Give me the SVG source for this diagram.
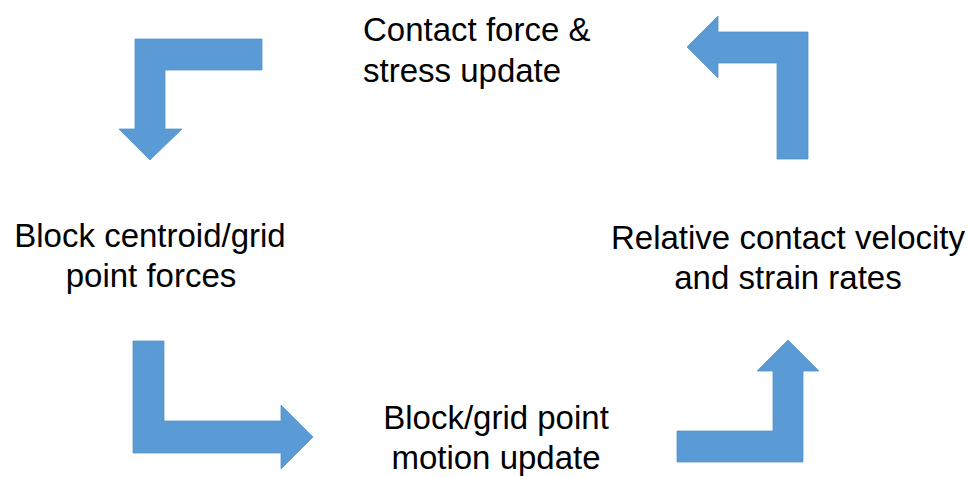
<svg xmlns="http://www.w3.org/2000/svg" width="969" height="477" viewBox="0 0 969 477">
<style>
.arrow{fill:#5B9BD5;stroke:#5191CC;stroke-width:0.75;stroke-linejoin:miter}
.lbl{font-family:"Liberation Sans",Arial,sans-serif;font-size:33px;fill:#000}
</style>
<rect width="969" height="477" fill="#fff"/>
<g id="connectors">
<polygon id="arrow-tl" class="arrow" points="135,39 262,39 262,70 165,70 165,129 182,129 150,160 119,129 135,129"/>
<polygon id="arrow-tr" class="arrow" points="687,47 718,16 718,32 808,32 808,159 777,159 777,63 718,63 718,78"/>
<polygon id="arrow-bl" class="arrow" points="133,341 164,341 164,421 281,421 281,405 313,437 281,469 281,453 133,453"/>
<polygon id="arrow-br" class="arrow" points="677,431 773,431 773,371 757,371 788,340 819,371 803,371 803,462 677,462"/>
</g>
<g id="node-contact-force">
<text class="lbl" x="363" y="41">Contact force &amp;</text>
<text class="lbl" x="363" y="82">stress update</text>
</g>
<g id="node-block-forces">
<text class="lbl" x="150" y="247" text-anchor="middle">Block centroid/grid</text>
<text class="lbl" x="151" y="287" text-anchor="middle">point forces</text>
</g>
<g id="node-relative-velocity">
<text class="lbl" x="788" y="249" text-anchor="middle">Relative contact velocity</text>
<text class="lbl" x="788" y="289" text-anchor="middle">and strain rates</text>
</g>
<g id="node-motion-update">
<text class="lbl" x="496" y="429" text-anchor="middle">Block/grid point</text>
<text class="lbl" x="496" y="469" text-anchor="middle">motion update</text>
</g>
</svg>
